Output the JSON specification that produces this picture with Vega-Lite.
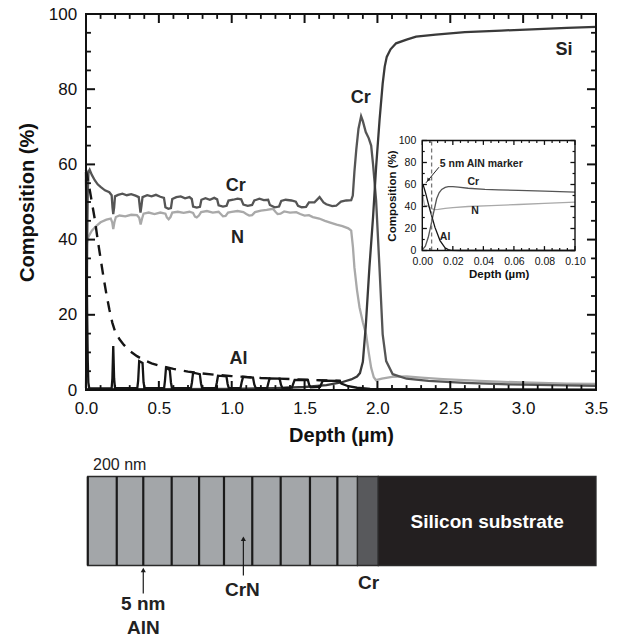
{
  "$schema": "https://vega.github.io/schema/vega-lite/v6.json",
  "width": 510,
  "height": 376,
  "padding": {"left": 17, "top": 5, "right": 5, "bottom": 0},
  "background": "white",
  "config": {
    "font": "Liberation Sans",
    "view": {"stroke": null},
    "axis": {"grid": false, "domain": false, "ticks": false, "labelColor": "#111", "titleColor": "#111", "labelOverlap": false, "labelFlush": false}
  },
  "datasets": {
    "main": [
      {"element": "N", "depth": 0, "comp": 56}, {"element": "N", "depth": 0.002, "comp": 41}, {"element": "N", "depth": 0.006, "comp": 39}, {"element": "N", "depth": 0.012, "comp": 40.2}, {"element": "N", "depth": 0.02, "comp": 41}, {"element": "N", "depth": 0.04, "comp": 42.4}, {"element": "N", "depth": 0.07, "comp": 43.6}, {"element": "N", "depth": 0.1, "comp": 44.6}, {"element": "N", "depth": 0.14, "comp": 45.3}, {"element": "N", "depth": 0.17, "comp": 45.6}, {"element": "N", "depth": 0.18, "comp": 44.6}, {"element": "N", "depth": 0.187, "comp": 42.8}, {"element": "N", "depth": 0.195, "comp": 44.6}, {"element": "N", "depth": 0.205, "comp": 46}, {"element": "N", "depth": 0.23, "comp": 46.4}, {"element": "N", "depth": 0.27, "comp": 46.2}, {"element": "N", "depth": 0.31, "comp": 46.6}, {"element": "N", "depth": 0.35, "comp": 46.5}, {"element": "N", "depth": 0.365, "comp": 45.8}, {"element": "N", "depth": 0.375, "comp": 44}, {"element": "N", "depth": 0.385, "comp": 45.6}, {"element": "N", "depth": 0.395, "comp": 46.9}, {"element": "N", "depth": 0.43, "comp": 47.2}, {"element": "N", "depth": 0.47, "comp": 46.8}, {"element": "N", "depth": 0.51, "comp": 47.2}, {"element": "N", "depth": 0.545, "comp": 46.9}, {"element": "N", "depth": 0.555, "comp": 45.9}, {"element": "N", "depth": 0.567, "comp": 45.4}, {"element": "N", "depth": 0.58, "comp": 46}, {"element": "N", "depth": 0.592, "comp": 47.2}, {"element": "N", "depth": 0.63, "comp": 47.4}, {"element": "N", "depth": 0.67, "comp": 47.1}, {"element": "N", "depth": 0.71, "comp": 47.4}, {"element": "N", "depth": 0.735, "comp": 47.1}, {"element": "N", "depth": 0.748, "comp": 46.1}, {"element": "N", "depth": 0.76, "comp": 45.9}, {"element": "N", "depth": 0.775, "comp": 46.4}, {"element": "N", "depth": 0.79, "comp": 47.3}, {"element": "N", "depth": 0.83, "comp": 47.6}, {"element": "N", "depth": 0.87, "comp": 47.2}, {"element": "N", "depth": 0.91, "comp": 47.4}, {"element": "N", "depth": 0.925, "comp": 46.8}, {"element": "N", "depth": 0.94, "comp": 46.2}, {"element": "N", "depth": 0.958, "comp": 46.3}, {"element": "N", "depth": 0.975, "comp": 47.2}, {"element": "N", "depth": 1.0, "comp": 47.4}, {"element": "N", "depth": 1.04, "comp": 47.6}, {"element": "N", "depth": 1.08, "comp": 47.3}, {"element": "N", "depth": 1.1, "comp": 46.8}, {"element": "N", "depth": 1.12, "comp": 46.4}, {"element": "N", "depth": 1.14, "comp": 46.5}, {"element": "N", "depth": 1.16, "comp": 47.3}, {"element": "N", "depth": 1.2, "comp": 47.7}, {"element": "N", "depth": 1.24, "comp": 47.9}, {"element": "N", "depth": 1.283, "comp": 48.2}, {"element": "N", "depth": 1.3, "comp": 47.4}, {"element": "N", "depth": 1.315, "comp": 46.8}, {"element": "N", "depth": 1.335, "comp": 46.9}, {"element": "N", "depth": 1.36, "comp": 47.5}, {"element": "N", "depth": 1.4, "comp": 47.2}, {"element": "N", "depth": 1.443, "comp": 47.3}, {"element": "N", "depth": 1.47, "comp": 46.8}, {"element": "N", "depth": 1.5, "comp": 46.4}, {"element": "N", "depth": 1.53, "comp": 46.5}, {"element": "N", "depth": 1.557, "comp": 46}, {"element": "N", "depth": 1.6, "comp": 45.6}, {"element": "N", "depth": 1.64, "comp": 45}, {"element": "N", "depth": 1.671, "comp": 44.6}, {"element": "N", "depth": 1.72, "comp": 44}, {"element": "N", "depth": 1.76, "comp": 43.6}, {"element": "N", "depth": 1.8, "comp": 43}, {"element": "N", "depth": 1.82, "comp": 42.4}, {"element": "N", "depth": 1.832, "comp": 38}, {"element": "N", "depth": 1.842, "comp": 32.6}, {"element": "N", "depth": 1.86, "comp": 26.5}, {"element": "N", "depth": 1.877, "comp": 22}, {"element": "N", "depth": 1.9, "comp": 18}, {"element": "N", "depth": 1.922, "comp": 14.8}, {"element": "N", "depth": 1.94, "comp": 10}, {"element": "N", "depth": 1.957, "comp": 5.9}, {"element": "N", "depth": 1.975, "comp": 3.4}, {"element": "N", "depth": 1.99, "comp": 2.6}, {"element": "N", "depth": 2.03, "comp": 3}, {"element": "N", "depth": 2.1, "comp": 3.5}, {"element": "N", "depth": 2.2, "comp": 3.6}, {"element": "N", "depth": 2.3, "comp": 3.3}, {"element": "N", "depth": 2.45, "comp": 2.9}, {"element": "N", "depth": 2.7, "comp": 2.4}, {"element": "N", "depth": 3.0, "comp": 2}, {"element": "N", "depth": 3.3, "comp": 1.7}, {"element": "N", "depth": 3.5, "comp": 1.6},
      {"element": "Cr", "depth": 0, "comp": 0.5}, {"element": "Cr", "depth": 0.004, "comp": 15}, {"element": "Cr", "depth": 0.008, "comp": 38}, {"element": "Cr", "depth": 0.012, "comp": 52}, {"element": "Cr", "depth": 0.017, "comp": 58}, {"element": "Cr", "depth": 0.025, "comp": 58.6}, {"element": "Cr", "depth": 0.04, "comp": 57.2}, {"element": "Cr", "depth": 0.06, "comp": 55.8}, {"element": "Cr", "depth": 0.08, "comp": 54.7}, {"element": "Cr", "depth": 0.1, "comp": 54}, {"element": "Cr", "depth": 0.13, "comp": 53.1}, {"element": "Cr", "depth": 0.16, "comp": 52.6}, {"element": "Cr", "depth": 0.176, "comp": 51.8}, {"element": "Cr", "depth": 0.182, "comp": 48.5}, {"element": "Cr", "depth": 0.187, "comp": 46.8}, {"element": "Cr", "depth": 0.193, "comp": 48.5}, {"element": "Cr", "depth": 0.199, "comp": 51.5}, {"element": "Cr", "depth": 0.22, "comp": 51.9}, {"element": "Cr", "depth": 0.25, "comp": 52.2}, {"element": "Cr", "depth": 0.28, "comp": 51.8}, {"element": "Cr", "depth": 0.31, "comp": 52.1}, {"element": "Cr", "depth": 0.34, "comp": 51.7}, {"element": "Cr", "depth": 0.362, "comp": 51.3}, {"element": "Cr", "depth": 0.369, "comp": 48.8}, {"element": "Cr", "depth": 0.374, "comp": 47.2}, {"element": "Cr", "depth": 0.38, "comp": 48.8}, {"element": "Cr", "depth": 0.388, "comp": 51.3}, {"element": "Cr", "depth": 0.42, "comp": 51.8}, {"element": "Cr", "depth": 0.45, "comp": 51.5}, {"element": "Cr", "depth": 0.48, "comp": 51.9}, {"element": "Cr", "depth": 0.51, "comp": 51.4}, {"element": "Cr", "depth": 0.535, "comp": 51.1}, {"element": "Cr", "depth": 0.545, "comp": 48.6}, {"element": "Cr", "depth": 0.565, "comp": 48.2}, {"element": "Cr", "depth": 0.583, "comp": 48.4}, {"element": "Cr", "depth": 0.592, "comp": 50.8}, {"element": "Cr", "depth": 0.62, "comp": 51.3}, {"element": "Cr", "depth": 0.65, "comp": 51.5}, {"element": "Cr", "depth": 0.68, "comp": 51}, {"element": "Cr", "depth": 0.71, "comp": 51.3}, {"element": "Cr", "depth": 0.726, "comp": 50.8}, {"element": "Cr", "depth": 0.735, "comp": 48.8}, {"element": "Cr", "depth": 0.76, "comp": 48.5}, {"element": "Cr", "depth": 0.782, "comp": 48.7}, {"element": "Cr", "depth": 0.792, "comp": 50.6}, {"element": "Cr", "depth": 0.82, "comp": 51}, {"element": "Cr", "depth": 0.85, "comp": 50.6}, {"element": "Cr", "depth": 0.88, "comp": 51.1}, {"element": "Cr", "depth": 0.9, "comp": 50.7}, {"element": "Cr", "depth": 0.91, "comp": 49.1}, {"element": "Cr", "depth": 0.94, "comp": 48.8}, {"element": "Cr", "depth": 0.965, "comp": 49}, {"element": "Cr", "depth": 0.978, "comp": 50.4}, {"element": "Cr", "depth": 1.01, "comp": 50.6}, {"element": "Cr", "depth": 1.04, "comp": 50.9}, {"element": "Cr", "depth": 1.065, "comp": 50.7}, {"element": "Cr", "depth": 1.08, "comp": 49.3}, {"element": "Cr", "depth": 1.11, "comp": 49}, {"element": "Cr", "depth": 1.14, "comp": 49.2}, {"element": "Cr", "depth": 1.155, "comp": 50.4}, {"element": "Cr", "depth": 1.19, "comp": 50.9}, {"element": "Cr", "depth": 1.22, "comp": 50.5}, {"element": "Cr", "depth": 1.25, "comp": 50.6}, {"element": "Cr", "depth": 1.262, "comp": 49.2}, {"element": "Cr", "depth": 1.295, "comp": 48.6}, {"element": "Cr", "depth": 1.325, "comp": 48.8}, {"element": "Cr", "depth": 1.34, "comp": 50.3}, {"element": "Cr", "depth": 1.37, "comp": 50.6}, {"element": "Cr", "depth": 1.41, "comp": 50.4}, {"element": "Cr", "depth": 1.44, "comp": 50.1}, {"element": "Cr", "depth": 1.455, "comp": 49}, {"element": "Cr", "depth": 1.48, "comp": 48.6}, {"element": "Cr", "depth": 1.51, "comp": 48.7}, {"element": "Cr", "depth": 1.53, "comp": 49.9}, {"element": "Cr", "depth": 1.568, "comp": 49.9}, {"element": "Cr", "depth": 1.603, "comp": 51.3}, {"element": "Cr", "depth": 1.63, "comp": 49.9}, {"element": "Cr", "depth": 1.649, "comp": 49.4}, {"element": "Cr", "depth": 1.69, "comp": 48.9}, {"element": "Cr", "depth": 1.717, "comp": 49}, {"element": "Cr", "depth": 1.75, "comp": 50.1}, {"element": "Cr", "depth": 1.786, "comp": 50.4}, {"element": "Cr", "depth": 1.82, "comp": 50.5}, {"element": "Cr", "depth": 1.831, "comp": 51.7}, {"element": "Cr", "depth": 1.842, "comp": 58}, {"element": "Cr", "depth": 1.855, "comp": 64}, {"element": "Cr", "depth": 1.87, "comp": 69.5}, {"element": "Cr", "depth": 1.888, "comp": 72.8}, {"element": "Cr", "depth": 1.9, "comp": 71.5}, {"element": "Cr", "depth": 1.92, "comp": 68.6}, {"element": "Cr", "depth": 1.94, "comp": 67}, {"element": "Cr", "depth": 1.957, "comp": 65}, {"element": "Cr", "depth": 1.97, "comp": 60}, {"element": "Cr", "depth": 1.991, "comp": 50.4}, {"element": "Cr", "depth": 2.014, "comp": 32.6}, {"element": "Cr", "depth": 2.036, "comp": 14.8}, {"element": "Cr", "depth": 2.06, "comp": 7.7}, {"element": "Cr", "depth": 2.105, "comp": 4.2}, {"element": "Cr", "depth": 2.2, "comp": 3}, {"element": "Cr", "depth": 2.35, "comp": 2.4}, {"element": "Cr", "depth": 2.6, "comp": 1.9}, {"element": "Cr", "depth": 2.9, "comp": 1.5}, {"element": "Cr", "depth": 3.2, "comp": 1.3}, {"element": "Cr", "depth": 3.5, "comp": 1.1},
      {"element": "Si", "depth": 0, "comp": 0.2}, {"element": "Si", "depth": 0.5, "comp": 0.2}, {"element": "Si", "depth": 1.0, "comp": 0.3}, {"element": "Si", "depth": 1.3, "comp": 0.5}, {"element": "Si", "depth": 1.5, "comp": 0.8}, {"element": "Si", "depth": 1.65, "comp": 1.3}, {"element": "Si", "depth": 1.75, "comp": 2}, {"element": "Si", "depth": 1.82, "comp": 2.8}, {"element": "Si", "depth": 1.86, "comp": 3.6}, {"element": "Si", "depth": 1.88, "comp": 4.5}, {"element": "Si", "depth": 1.9, "comp": 7.5}, {"element": "Si", "depth": 1.92, "comp": 17}, {"element": "Si", "depth": 1.945, "comp": 32.6}, {"element": "Si", "depth": 1.97, "comp": 46}, {"element": "Si", "depth": 1.991, "comp": 59.3}, {"element": "Si", "depth": 2.015, "comp": 72}, {"element": "Si", "depth": 2.036, "comp": 81.5}, {"element": "Si", "depth": 2.05, "comp": 86}, {"element": "Si", "depth": 2.064, "comp": 88.6}, {"element": "Si", "depth": 2.09, "comp": 90.6}, {"element": "Si", "depth": 2.128, "comp": 92.2}, {"element": "Si", "depth": 2.2, "comp": 93.2}, {"element": "Si", "depth": 2.265, "comp": 94}, {"element": "Si", "depth": 2.4, "comp": 94.5}, {"element": "Si", "depth": 2.6, "comp": 95.2}, {"element": "Si", "depth": 2.85, "comp": 95.6}, {"element": "Si", "depth": 3.06, "comp": 95.9}, {"element": "Si", "depth": 3.3, "comp": 96.3}, {"element": "Si", "depth": 3.5, "comp": 96.6},
      {"element": "Al", "depth": 0, "comp": 58}, {"element": "Al", "depth": 0.004, "comp": 38}, {"element": "Al", "depth": 0.008, "comp": 20}, {"element": "Al", "depth": 0.012, "comp": 8}, {"element": "Al", "depth": 0.016, "comp": 2}, {"element": "Al", "depth": 0.022, "comp": 0.5}, {"element": "Al", "depth": 0.1, "comp": 0.4}, {"element": "Al", "depth": 0.176, "comp": 0.5}, {"element": "Al", "depth": 0.181, "comp": 3}, {"element": "Al", "depth": 0.187, "comp": 11.7}, {"element": "Al", "depth": 0.193, "comp": 3}, {"element": "Al", "depth": 0.199, "comp": 0.5}, {"element": "Al", "depth": 0.352, "comp": 0.5}, {"element": "Al", "depth": 0.358, "comp": 2.5}, {"element": "Al", "depth": 0.365, "comp": 7.7}, {"element": "Al", "depth": 0.388, "comp": 7.2}, {"element": "Al", "depth": 0.395, "comp": 2}, {"element": "Al", "depth": 0.402, "comp": 0.5}, {"element": "Al", "depth": 0.536, "comp": 0.5}, {"element": "Al", "depth": 0.542, "comp": 2.5}, {"element": "Al", "depth": 0.549, "comp": 5.9}, {"element": "Al", "depth": 0.575, "comp": 5.3}, {"element": "Al", "depth": 0.583, "comp": 2}, {"element": "Al", "depth": 0.59, "comp": 0.5}, {"element": "Al", "depth": 0.72, "comp": 0.5}, {"element": "Al", "depth": 0.727, "comp": 2}, {"element": "Al", "depth": 0.735, "comp": 4.6}, {"element": "Al", "depth": 0.781, "comp": 4.2}, {"element": "Al", "depth": 0.789, "comp": 1.8}, {"element": "Al", "depth": 0.797, "comp": 0.5}, {"element": "Al", "depth": 0.89, "comp": 0.5}, {"element": "Al", "depth": 0.898, "comp": 2}, {"element": "Al", "depth": 0.906, "comp": 3.8}, {"element": "Al", "depth": 0.964, "comp": 3.6}, {"element": "Al", "depth": 0.972, "comp": 1.6}, {"element": "Al", "depth": 0.98, "comp": 0.5}, {"element": "Al", "depth": 1.06, "comp": 0.5}, {"element": "Al", "depth": 1.068, "comp": 2}, {"element": "Al", "depth": 1.078, "comp": 3.5}, {"element": "Al", "depth": 1.146, "comp": 3.3}, {"element": "Al", "depth": 1.155, "comp": 1.5}, {"element": "Al", "depth": 1.165, "comp": 0.5}, {"element": "Al", "depth": 1.243, "comp": 0.5}, {"element": "Al", "depth": 1.251, "comp": 1.8}, {"element": "Al", "depth": 1.26, "comp": 3.1}, {"element": "Al", "depth": 1.329, "comp": 3}, {"element": "Al", "depth": 1.338, "comp": 1.4}, {"element": "Al", "depth": 1.348, "comp": 0.5}, {"element": "Al", "depth": 1.413, "comp": 0.6}, {"element": "Al", "depth": 1.422, "comp": 1.6}, {"element": "Al", "depth": 1.432, "comp": 2.7}, {"element": "Al", "depth": 1.523, "comp": 2.6}, {"element": "Al", "depth": 1.532, "comp": 1.3}, {"element": "Al", "depth": 1.542, "comp": 0.7}, {"element": "Al", "depth": 1.606, "comp": 0.8}, {"element": "Al", "depth": 1.615, "comp": 1.6}, {"element": "Al", "depth": 1.625, "comp": 2.5}, {"element": "Al", "depth": 1.74, "comp": 2.4}, {"element": "Al", "depth": 1.752, "comp": 1.7}, {"element": "Al", "depth": 1.8, "comp": 1.0}, {"element": "Al", "depth": 1.86, "comp": 0.6}, {"element": "Al", "depth": 1.95, "comp": 0.3}, {"element": "Al", "depth": 2.2, "comp": 0.2}, {"element": "Al", "depth": 3.5, "comp": 0.1}
    ],
    "alfit": [
      {"depth": 0, "comp": 58.5}, {"depth": 0.02, "comp": 54.5}, {"depth": 0.04, "comp": 50}, {"depth": 0.06, "comp": 45.5}, {"depth": 0.08, "comp": 40}, {"depth": 0.1, "comp": 35}, {"depth": 0.12, "comp": 30}, {"depth": 0.14, "comp": 25.5}, {"depth": 0.16, "comp": 21.5}, {"depth": 0.18, "comp": 18}, {"depth": 0.2, "comp": 15.5}, {"depth": 0.23, "comp": 13.5}, {"depth": 0.26, "comp": 12}, {"depth": 0.3, "comp": 10.4}, {"depth": 0.35, "comp": 9}, {"depth": 0.4, "comp": 7.9}, {"depth": 0.45, "comp": 7.1}, {"depth": 0.5, "comp": 6.5}, {"depth": 0.6, "comp": 5.6}, {"depth": 0.7, "comp": 4.9}, {"depth": 0.8, "comp": 4.4}, {"depth": 0.9, "comp": 4.0}, {"depth": 1.0, "comp": 3.7}, {"depth": 1.2, "comp": 3.2}, {"depth": 1.4, "comp": 2.9}, {"depth": 1.6, "comp": 2.6}, {"depth": 1.75, "comp": 2.4}
    ],
    "mainLabels": [
      {"label": "Cr", "depth": 1.028, "comp": 54.3}, {"label": "N", "depth": 1.04, "comp": 40.4}, {"label": "Al", "depth": 1.046, "comp": 8.2}, {"label": "Si", "depth": 3.28, "comp": 90.5}, {"label": "Cr", "depth": 1.886, "comp": 77.6}
    ],
    "mainFrame": [{"lo": 0, "hi": 3.5, "bottom": 0, "top": 100}],
    "xTicksMain": [
      {"v": 0, "kind": "major"}, {"v": 0.1, "kind": "minor"}, {"v": 0.2, "kind": "minor"}, {"v": 0.3, "kind": "minor"}, {"v": 0.4, "kind": "minor"},
      {"v": 0.5, "kind": "major"}, {"v": 0.6, "kind": "minor"}, {"v": 0.7, "kind": "minor"}, {"v": 0.8, "kind": "minor"}, {"v": 0.9, "kind": "minor"},
      {"v": 1.0, "kind": "major"}, {"v": 1.1, "kind": "minor"}, {"v": 1.2, "kind": "minor"}, {"v": 1.3, "kind": "minor"}, {"v": 1.4, "kind": "minor"},
      {"v": 1.5, "kind": "major"}, {"v": 1.6, "kind": "minor"}, {"v": 1.7, "kind": "minor"}, {"v": 1.8, "kind": "minor"}, {"v": 1.9, "kind": "minor"},
      {"v": 2.0, "kind": "major"}, {"v": 2.1, "kind": "minor"}, {"v": 2.2, "kind": "minor"}, {"v": 2.3, "kind": "minor"}, {"v": 2.4, "kind": "minor"},
      {"v": 2.5, "kind": "major"}, {"v": 2.6, "kind": "minor"}, {"v": 2.7, "kind": "minor"}, {"v": 2.8, "kind": "minor"}, {"v": 2.9, "kind": "minor"},
      {"v": 3.0, "kind": "major"}, {"v": 3.1, "kind": "minor"}, {"v": 3.2, "kind": "minor"}, {"v": 3.3, "kind": "minor"}, {"v": 3.4, "kind": "minor"},
      {"v": 3.5, "kind": "major"}
    ],
    "yTicksMain": [
      {"v": 0, "kind": "major"}, {"v": 5, "kind": "minor"}, {"v": 10, "kind": "minor"}, {"v": 15, "kind": "minor"},
      {"v": 20, "kind": "major"}, {"v": 25, "kind": "minor"}, {"v": 30, "kind": "minor"}, {"v": 35, "kind": "minor"},
      {"v": 40, "kind": "major"}, {"v": 45, "kind": "minor"}, {"v": 50, "kind": "minor"}, {"v": 55, "kind": "minor"},
      {"v": 60, "kind": "major"}, {"v": 65, "kind": "minor"}, {"v": 70, "kind": "minor"}, {"v": 75, "kind": "minor"},
      {"v": 80, "kind": "major"}, {"v": 85, "kind": "minor"}, {"v": 90, "kind": "minor"}, {"v": 95, "kind": "minor"},
      {"v": 100, "kind": "major"}
    ],
    "insetFrame": [{"lo": 0, "hi": 0.1, "bottom": 0, "top": 100}],
    "xTicksInset": [
      {"v": 0, "kind": "major"}, {"v": 0.005, "kind": "minor"}, {"v": 0.01, "kind": "minor"}, {"v": 0.015, "kind": "minor"},
      {"v": 0.02, "kind": "major"}, {"v": 0.025, "kind": "minor"}, {"v": 0.03, "kind": "minor"}, {"v": 0.035, "kind": "minor"},
      {"v": 0.04, "kind": "major"}, {"v": 0.045, "kind": "minor"}, {"v": 0.05, "kind": "minor"}, {"v": 0.055, "kind": "minor"},
      {"v": 0.06, "kind": "major"}, {"v": 0.065, "kind": "minor"}, {"v": 0.07, "kind": "minor"}, {"v": 0.075, "kind": "minor"},
      {"v": 0.08, "kind": "major"}, {"v": 0.085, "kind": "minor"}, {"v": 0.09, "kind": "minor"}, {"v": 0.095, "kind": "minor"},
      {"v": 0.1, "kind": "major"}
    ],
    "yTicksInset": [
      {"v": 0, "kind": "major"}, {"v": 10, "kind": "minor"}, {"v": 20, "kind": "major"}, {"v": 30, "kind": "minor"}, {"v": 40, "kind": "major"}, {"v": 50, "kind": "minor"},
      {"v": 60, "kind": "major"}, {"v": 70, "kind": "minor"}, {"v": 80, "kind": "major"}, {"v": 90, "kind": "minor"}, {"v": 100, "kind": "major"}
    ],
    "inset": [
      {"element": "N", "depth": 0, "comp": 56}, {"element": "N", "depth": 0.0008, "comp": 46}, {"element": "N", "depth": 0.0015, "comp": 40.5}, {"element": "N", "depth": 0.0029, "comp": 41}, {"element": "N", "depth": 0.0045, "comp": 39.5}, {"element": "N", "depth": 0.0061, "comp": 38}, {"element": "N", "depth": 0.008, "comp": 37.2}, {"element": "N", "depth": 0.0105, "comp": 37.4}, {"element": "N", "depth": 0.015, "comp": 38.3}, {"element": "N", "depth": 0.02, "comp": 39}, {"element": "N", "depth": 0.03, "comp": 40}, {"element": "N", "depth": 0.045, "comp": 40.8}, {"element": "N", "depth": 0.063, "comp": 41.8}, {"element": "N", "depth": 0.08, "comp": 42.8}, {"element": "N", "depth": 0.1, "comp": 44},
      {"element": "Cr", "depth": 0, "comp": 0.5}, {"element": "Cr", "depth": 0.002, "comp": 4}, {"element": "Cr", "depth": 0.0039, "comp": 12}, {"element": "Cr", "depth": 0.0055, "comp": 22}, {"element": "Cr", "depth": 0.0072, "comp": 33}, {"element": "Cr", "depth": 0.0094, "comp": 47}, {"element": "Cr", "depth": 0.011, "comp": 52.5}, {"element": "Cr", "depth": 0.0127, "comp": 55.5}, {"element": "Cr", "depth": 0.015, "comp": 57.3}, {"element": "Cr", "depth": 0.017, "comp": 58}, {"element": "Cr", "depth": 0.02, "comp": 58}, {"element": "Cr", "depth": 0.0236, "comp": 57.6}, {"element": "Cr", "depth": 0.03, "comp": 56.6}, {"element": "Cr", "depth": 0.041, "comp": 55.6}, {"element": "Cr", "depth": 0.05, "comp": 55.2}, {"element": "Cr", "depth": 0.063, "comp": 54.6}, {"element": "Cr", "depth": 0.08, "comp": 54}, {"element": "Cr", "depth": 0.1, "comp": 53},
      {"element": "Al", "depth": 0, "comp": 59}, {"element": "Al", "depth": 0.0007, "comp": 59}, {"element": "Al", "depth": 0.002, "comp": 53}, {"element": "Al", "depth": 0.005, "comp": 37}, {"element": "Al", "depth": 0.0083, "comp": 21}, {"element": "Al", "depth": 0.0116, "comp": 9}, {"element": "Al", "depth": 0.0149, "comp": 2.4}, {"element": "Al", "depth": 0.017, "comp": 0.8}, {"element": "Al", "depth": 0.019, "comp": 0.2}, {"element": "Al", "depth": 0.025, "comp": 0}, {"element": "Al", "depth": 0.1, "comp": 0}
    ],
    "insetLabels": [
      {"label": "5 nm AlN marker", "depth": 0.0386, "comp": 78.8}, {"label": "Cr", "depth": 0.0334, "comp": 62.1}, {"label": "N", "depth": 0.0345, "comp": 35.5}, {"label": "Al", "depth": 0.0149, "comp": 12.1}
    ],
    "marker": [{"depth": 0.0061}],
    "markerArrow": [{"fromDepth": 0.0109, "fromComp": 75.7, "toDepth": 0.0024, "toComp": 61.5, "headDepth": 0.0038, "headComp": 64}],
    "layers": [
      {"material": "CrN", "start": 0.012, "end": 1.863}, {"material": "Cr", "start": 1.863, "end": 2.006}, {"material": "Si", "start": 2.006, "end": 3.5}
    ],
    "aln": [{"pos": 0.012}, {"pos": 0.211}, {"pos": 0.393}, {"pos": 0.588}, {"pos": 0.776}, {"pos": 0.947}, {"pos": 1.141}, {"pos": 1.336}, {"pos": 1.537}, {"pos": 1.725}],
    "schemArrows": [{"x": 0.393, "from": -0.315, "to": -0.012, "head": -0.05}, {"x": 1.08, "from": -0.112, "to": 0.337, "head": 0.3}],
    "schemLabels": [
      {"label": "CrN", "x": 1.073, "y": -0.27}, {"label": "Cr", "x": 1.94, "y": -0.2}, {"label": "5 nm", "x": 0.393, "y": -0.427}, {"label": "AlN", "x": 0.393, "y": -0.697}
    ],
    "substrateLabel": [{"label": "Silicon substrate", "x": 2.753, "y": 0.494}],
    "thicknessLabel": [{"label": "200 nm", "x": 0.048, "y": 1.124}]
  },
  "resolve": {"scale": {"x": "independent", "y": "independent"}},
  "layer": [
    {
      "layer": [
        {
          "data": {"name": "main"},
          "mark": {"type": "line", "strokeWidth": 2.3},
          "encoding": {
            "x": {"field": "depth", "type": "quantitative", "scale": {"domain": [0, 3.5]},
              "axis": {"orient": "bottom", "values": [0,0.5,1,1.5,2,2.5,3,3.5], "format": ".1f",
                "labelFontSize": 17, "labelPadding": 10, "labelOverlap": false, "labelFlush": false,
                "title": "Depth (µm)", "titleFontSize": 20, "titleFontWeight": "bold", "titlePadding": 9}},
            "y": {"field": "comp", "type": "quantitative", "scale": {"domain": [0, 100]},
              "axis": {"orient": "left", "values": [0,20,40,60,80,100],
                "labelFontSize": 17, "labelPadding": 9.3, "labelOverlap": false,
                "title": "Composition (%)", "titleFontSize": 20, "titleFontWeight": "bold", "titlePadding": 11}},
            "color": {"field": "element", "type": "nominal", "scale": {"domain": ["N", "Cr", "Si", "Al"], "range": ["#a9a9a9", "#555555", "#3a3a3a", "#151515"]}, "legend": null}
          }
        },
        {
          "data": {"name": "alfit"},
          "mark": {"type": "line", "strokeWidth": 2.4, "strokeDash": [11, 8], "color": "#151515"},
          "encoding": {
            "x": {"field": "depth", "type": "quantitative"},
            "y": {"field": "comp", "type": "quantitative"}
          }
        },
        {
          "data": {"name": "mainLabels"},
          "mark": {"type": "text", "fontSize": 18, "fontWeight": "bold", "color": "#222"},
          "encoding": {
            "x": {"field": "depth", "type": "quantitative"},
            "y": {"field": "comp", "type": "quantitative"},
            "text": {"field": "label"}
          }
        },
        {
          "data": {"name": "mainFrame"},
          "mark": {"type": "rect", "fillOpacity": 0, "stroke": "#111", "strokeWidth": 2},
          "encoding": {
            "x": {"field": "lo", "type": "quantitative"}, "x2": {"field": "hi"},
            "y": {"field": "bottom", "type": "quantitative"}, "y2": {"field": "top"}
          }
        },
        {
          "data": {"name": "xTicksMain"}, "transform": [{"filter": "datum.kind === 'major'"}],
          "mark": {"type": "rule", "strokeWidth": 2, "color": "#111"},
          "encoding": {"x": {"field": "v", "type": "quantitative"}, "y": {"datum": 0, "type": "quantitative"}, "y2": {"datum": 2.4}}
        },
        {
          "data": {"name": "xTicksMain"}, "transform": [{"filter": "datum.kind === 'minor'"}],
          "mark": {"type": "rule", "strokeWidth": 1.8, "color": "#111"},
          "encoding": {"x": {"field": "v", "type": "quantitative"}, "y": {"datum": 0, "type": "quantitative"}, "y2": {"datum": 1.3}}
        },
        {
          "data": {"name": "xTicksMain"}, "transform": [{"filter": "datum.kind === 'major'"}],
          "mark": {"type": "rule", "strokeWidth": 2, "color": "#111"},
          "encoding": {"x": {"field": "v", "type": "quantitative"}, "y": {"datum": 100, "type": "quantitative"}, "y2": {"datum": 97.6}}
        },
        {
          "data": {"name": "xTicksMain"}, "transform": [{"filter": "datum.kind === 'minor'"}],
          "mark": {"type": "rule", "strokeWidth": 1.8, "color": "#111"},
          "encoding": {"x": {"field": "v", "type": "quantitative"}, "y": {"datum": 100, "type": "quantitative"}, "y2": {"datum": 98.7}}
        },
        {
          "data": {"name": "yTicksMain"}, "transform": [{"filter": "datum.kind === 'major'"}],
          "mark": {"type": "rule", "strokeWidth": 2, "color": "#111"},
          "encoding": {"y": {"field": "v", "type": "quantitative"}, "x": {"datum": 0, "type": "quantitative"}, "x2": {"datum": 0.062}}
        },
        {
          "data": {"name": "yTicksMain"}, "transform": [{"filter": "datum.kind === 'minor'"}],
          "mark": {"type": "rule", "strokeWidth": 1.8, "color": "#111"},
          "encoding": {"y": {"field": "v", "type": "quantitative"}, "x": {"datum": 0, "type": "quantitative"}, "x2": {"datum": 0.034}}
        },
        {
          "data": {"name": "yTicksMain"}, "transform": [{"filter": "datum.kind === 'major'"}],
          "mark": {"type": "rule", "strokeWidth": 2, "color": "#111"},
          "encoding": {"y": {"field": "v", "type": "quantitative"}, "x": {"datum": 3.5, "type": "quantitative"}, "x2": {"datum": 3.438}}
        },
        {
          "data": {"name": "yTicksMain"}, "transform": [{"filter": "datum.kind === 'minor'"}],
          "mark": {"type": "rule", "strokeWidth": 1.8, "color": "#111"},
          "encoding": {"y": {"field": "v", "type": "quantitative"}, "x": {"datum": 3.5, "type": "quantitative"}, "x2": {"datum": 3.466}}
        }
      ]
    },
    {
      "layer": [
        {
          "data": {"name": "inset"},
          "mark": {"type": "line", "strokeWidth": 1.3},
          "encoding": {
            "x": {"field": "depth", "type": "quantitative", "scale": {"domain": [0, 0.1], "range": [336.3, 489]},
              "axis": {"orient": "bottom", "offset": -139.5, "values": [0,0.02,0.04,0.06,0.08,0.1], "format": ".2f",
                "labelFontSize": 10.5, "labelPadding": 5.5, "labelOverlap": false, "labelFlush": false,
                "title": "Depth (µm)", "titleFontSize": 11.5, "titleFontWeight": "bold", "titlePadding": 2, "zindex": 1}},
            "y": {"field": "comp", "type": "quantitative", "scale": {"domain": [0, 100], "range": [236.5, 126.5]},
              "axis": {"orient": "left", "offset": -336.3, "values": [0,20,40,60,80,100],
                "labelFontSize": 10.5, "labelPadding": 6.5, "labelOverlap": false,
                "title": "Composition (%)", "titleFontSize": 11.5, "titleFontWeight": "bold", "titlePadding": 1, "zindex": 1}},
            "color": {"field": "element", "type": "nominal", "legend": null}
          }
        },
        {
          "data": {"name": "marker"},
          "mark": {"type": "rule", "color": "#777", "strokeWidth": 1.3, "strokeDash": [4, 3]},
          "encoding": {
            "x": {"field": "depth", "type": "quantitative"},
            "y": {"datum": 0, "type": "quantitative"},
            "y2": {"datum": 100}
          }
        },
        {
          "data": {"name": "markerArrow"},
          "mark": {"type": "rule", "color": "#222", "strokeWidth": 1},
          "encoding": {
            "x": {"field": "fromDepth", "type": "quantitative"},
            "y": {"field": "fromComp", "type": "quantitative"},
            "x2": {"field": "toDepth"},
            "y2": {"field": "toComp"}
          }
        },
        {
          "data": {"name": "markerArrow"},
          "mark": {"type": "point", "shape": "triangle-up", "filled": true, "size": 16, "angle": 218, "color": "#222", "opacity": 1},
          "encoding": {
            "x": {"field": "headDepth", "type": "quantitative"},
            "y": {"field": "headComp", "type": "quantitative"}
          }
        },
        {
          "data": {"name": "insetLabels"},
          "mark": {"type": "text", "fontSize": 10.5, "fontWeight": "bold", "color": "#222"},
          "encoding": {
            "x": {"field": "depth", "type": "quantitative"},
            "y": {"field": "comp", "type": "quantitative"},
            "text": {"field": "label"}
          }
        },
        {
          "data": {"name": "insetFrame"},
          "mark": {"type": "rect", "fillOpacity": 0, "stroke": "#111", "strokeWidth": 1.4},
          "encoding": {
            "x": {"field": "lo", "type": "quantitative"}, "x2": {"field": "hi"},
            "y": {"field": "bottom", "type": "quantitative"}, "y2": {"field": "top"}
          }
        },
        {
          "data": {"name": "xTicksInset"}, "transform": [{"filter": "datum.kind === 'major'"}],
          "mark": {"type": "rule", "strokeWidth": 1.3, "color": "#111"},
          "encoding": {"x": {"field": "v", "type": "quantitative"}, "y": {"datum": 0, "type": "quantitative"}, "y2": {"datum": 4}}
        },
        {
          "data": {"name": "xTicksInset"}, "transform": [{"filter": "datum.kind === 'minor'"}],
          "mark": {"type": "rule", "strokeWidth": 1.2, "color": "#111"},
          "encoding": {"x": {"field": "v", "type": "quantitative"}, "y": {"datum": 0, "type": "quantitative"}, "y2": {"datum": 2.2}}
        },
        {
          "data": {"name": "xTicksInset"}, "transform": [{"filter": "datum.kind === 'major'"}],
          "mark": {"type": "rule", "strokeWidth": 1.3, "color": "#111"},
          "encoding": {"x": {"field": "v", "type": "quantitative"}, "y": {"datum": 100, "type": "quantitative"}, "y2": {"datum": 96}}
        },
        {
          "data": {"name": "xTicksInset"}, "transform": [{"filter": "datum.kind === 'minor'"}],
          "mark": {"type": "rule", "strokeWidth": 1.2, "color": "#111"},
          "encoding": {"x": {"field": "v", "type": "quantitative"}, "y": {"datum": 100, "type": "quantitative"}, "y2": {"datum": 97.8}}
        },
        {
          "data": {"name": "yTicksInset"}, "transform": [{"filter": "datum.kind === 'major'"}],
          "mark": {"type": "rule", "strokeWidth": 1.3, "color": "#111"},
          "encoding": {"y": {"field": "v", "type": "quantitative"}, "x": {"datum": 0, "type": "quantitative"}, "x2": {"datum": 0.003}}
        },
        {
          "data": {"name": "yTicksInset"}, "transform": [{"filter": "datum.kind === 'minor'"}],
          "mark": {"type": "rule", "strokeWidth": 1.2, "color": "#111"},
          "encoding": {"y": {"field": "v", "type": "quantitative"}, "x": {"datum": 0, "type": "quantitative"}, "x2": {"datum": 0.0016}}
        },
        {
          "data": {"name": "yTicksInset"}, "transform": [{"filter": "datum.kind === 'major'"}],
          "mark": {"type": "rule", "strokeWidth": 1.3, "color": "#111"},
          "encoding": {"y": {"field": "v", "type": "quantitative"}, "x": {"datum": 0.1, "type": "quantitative"}, "x2": {"datum": 0.097}}
        },
        {
          "data": {"name": "yTicksInset"}, "transform": [{"filter": "datum.kind === 'minor'"}],
          "mark": {"type": "rule", "strokeWidth": 1.2, "color": "#111"},
          "encoding": {"y": {"field": "v", "type": "quantitative"}, "x": {"datum": 0.1, "type": "quantitative"}, "x2": {"datum": 0.0984}}
        }
      ]
    },
    {
      "layer": [
        {
          "data": {"name": "layers"},
          "mark": {"type": "rect", "stroke": "#2a2a2a", "strokeWidth": 1.3},
          "encoding": {
            "x": {"field": "start", "type": "quantitative", "scale": {"domain": [0, 3.5]}, "axis": null},
            "x2": {"field": "end"},
            "y": {"datum": 0, "type": "quantitative", "scale": {"domain": [0, 1], "range": [551.5, 462.5]}, "axis": null},
            "y2": {"datum": 1},
            "fill": {"field": "material", "type": "nominal", "scale": {"domain": ["CrN", "Cr", "Si"], "range": ["#a3a6a9", "#58595c", "#231f20"]}, "legend": null}
          }
        },
        {
          "data": {"name": "aln"},
          "mark": {"type": "rule", "color": "#1a1a1a", "strokeWidth": 2.2},
          "encoding": {
            "x": {"field": "pos", "type": "quantitative"},
            "y": {"datum": 0, "type": "quantitative"},
            "y2": {"datum": 1}
          }
        },
        {
          "data": {"name": "schemArrows"},
          "mark": {"type": "rule", "color": "#1a1a1a", "strokeWidth": 1.2},
          "encoding": {
            "x": {"field": "x", "type": "quantitative"},
            "y": {"field": "from", "type": "quantitative"},
            "y2": {"field": "head"}
          }
        },
        {
          "data": {"name": "schemArrows"},
          "mark": {"type": "point", "shape": "triangle-up", "filled": true, "size": 26, "color": "#1a1a1a", "opacity": 1},
          "encoding": {
            "x": {"field": "x", "type": "quantitative"},
            "y": {"field": "head", "type": "quantitative"}
          }
        },
        {
          "data": {"name": "schemLabels"},
          "mark": {"type": "text", "fontSize": 19, "fontWeight": "bold", "color": "#222"},
          "encoding": {
            "x": {"field": "x", "type": "quantitative"},
            "y": {"field": "y", "type": "quantitative"},
            "text": {"field": "label"}
          }
        },
        {
          "data": {"name": "substrateLabel"},
          "mark": {"type": "text", "fontSize": 19, "fontWeight": "bold", "color": "white"},
          "encoding": {
            "x": {"field": "x", "type": "quantitative"},
            "y": {"field": "y", "type": "quantitative"},
            "text": {"field": "label"}
          }
        },
        {
          "data": {"name": "thicknessLabel"},
          "mark": {"type": "text", "fontSize": 16, "align": "left", "color": "#222"},
          "encoding": {
            "x": {"field": "x", "type": "quantitative"},
            "y": {"field": "y", "type": "quantitative"},
            "text": {"field": "label"}
          }
        }
      ]
    }
  ]
}
